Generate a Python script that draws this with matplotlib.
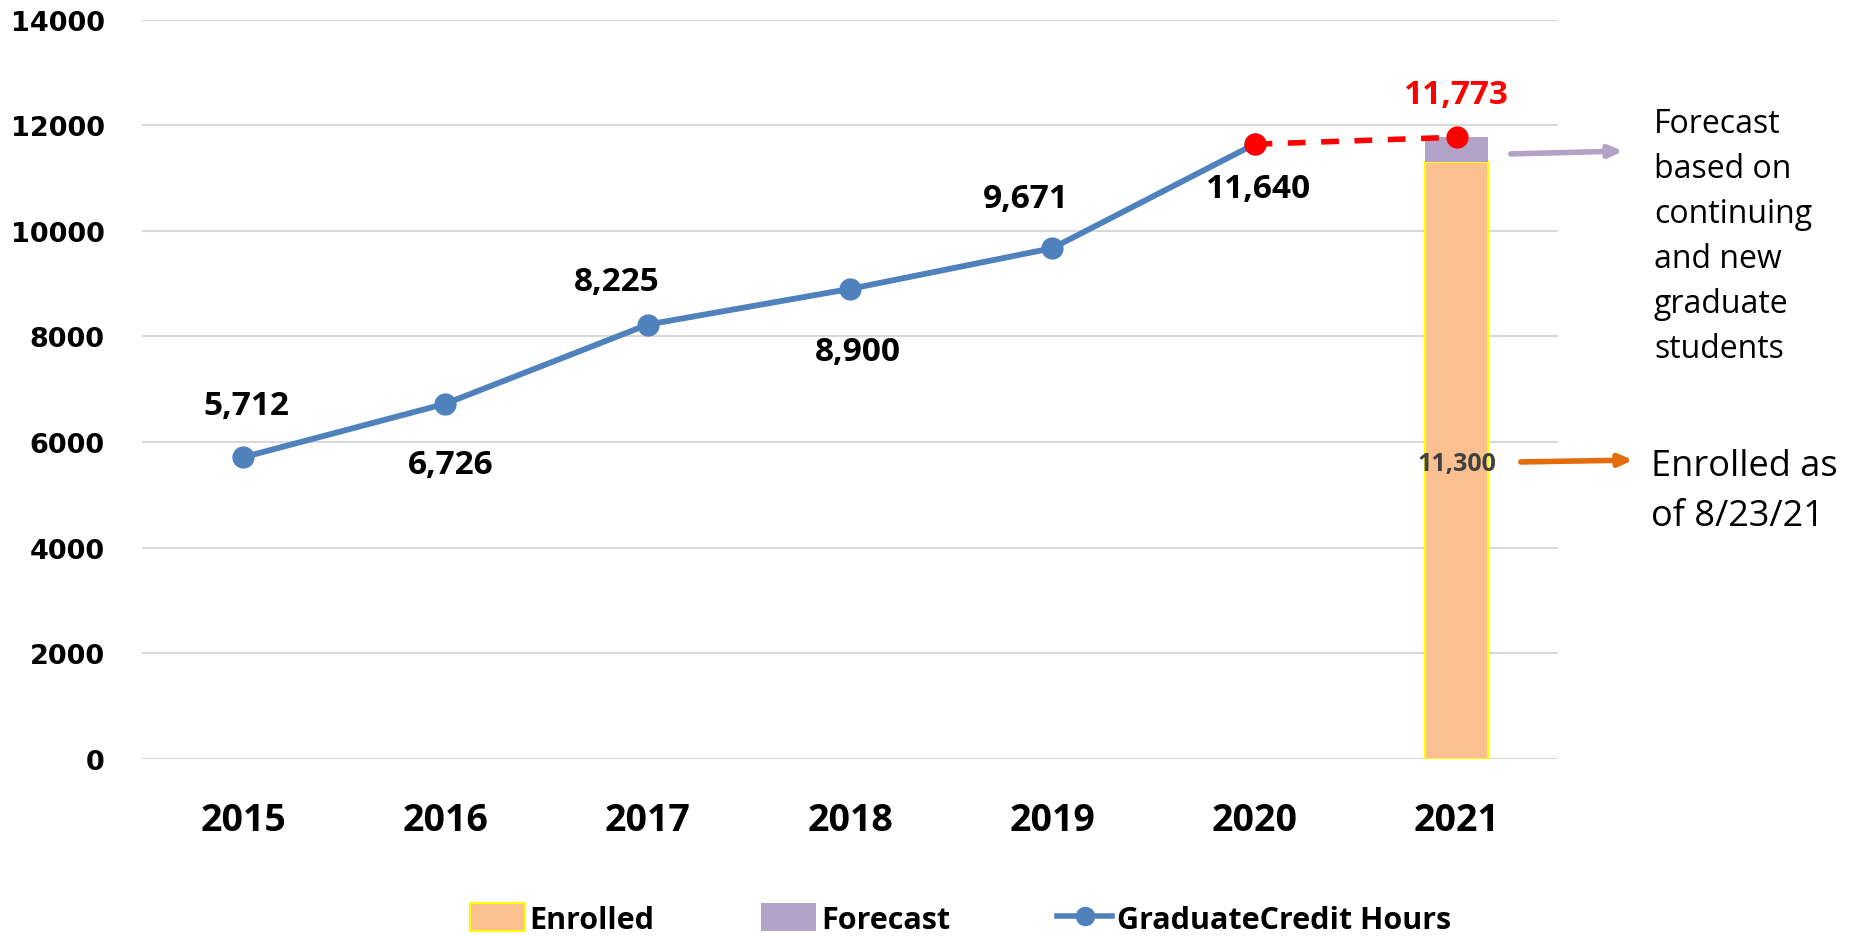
import matplotlib.pyplot as plt
from matplotlib.lines import Line2D
from matplotlib.patches import Patch

# data
years = ['2015', '2016', '2017', '2018', '2019', '2020', '2021']
credit_hours = [5712, 6726, 8225, 8900, 9671, 11640]
forecast_total = 11773
enrolled_2021 = 11300
y_ticks = [0, 2000, 4000, 6000, 8000, 10000, 12000, 14000]

# label offsets in points (x, y) for the line labels
label_offsets = [(2, 37), (4, -44), (-22, 31), (6, -45), (-19, 36), (3, -32)]

BLUE = '#4F81BD'
ORANGE = '#FAC090'
PURPLE = '#B3A2C7'
RED = '#FF0000'
LABEL_FONT = 'Open Sans'
H = 937  # figure height in pixels


def main():
    fig = plt.figure(figsize=(18.54, 9.37), dpi=100)
    ax = fig.add_axes([0.0766, 0.189, 0.7637, 0.789])

    x = list(range(len(years)))
    x_2021 = x[-1]

    # stacked bar for 2021
    ax.bar(x_2021, enrolled_2021, width=0.31, color=ORANGE, edgecolor='#FFFF00',
           linewidth=1.5, zorder=2)
    ax.bar(x_2021, forecast_total - enrolled_2021, bottom=enrolled_2021, width=0.31,
           color=PURPLE, linewidth=0, zorder=2)

    # actual credit hours
    ax.plot(x[:len(credit_hours)], credit_hours, color=BLUE, lw=4.2, marker='o',
            ms=15, zorder=3)
    # forecast segment
    ax.plot([x[len(credit_hours) - 1], x_2021], [credit_hours[-1], forecast_total],
            color=RED, lw=4, ls=(0, (3.2, 2.8)), marker='o', ms=15, zorder=4)

    for xi, v, off in zip(x, credit_hours, label_offsets):
        ax.annotate(f'{v:,}', (xi, v), xytext=off, textcoords='offset points',
                    ha='center', va='center', fontsize=24, fontweight='bold',
                    family=LABEL_FONT)
    ax.annotate(f'{forecast_total:,}', (x_2021, forecast_total), xytext=(0, 31),
                textcoords='offset points', ha='center', va='center', fontsize=24,
                fontweight='bold', color=RED, family=LABEL_FONT)
    ax.text(x_2021, 5600, f'{enrolled_2021:,}', ha='center', va='center',
            fontsize=18, fontweight='bold', color='#404040', family=LABEL_FONT,
            zorder=5)

    ax.set_xlim(-0.5, len(years) - 0.5)
    ax.set_ylim(0, 14000)
    ax.set_xticks(x)
    ax.set_xticklabels(years, fontsize=27, fontweight='bold', family=LABEL_FONT)
    ax.set_yticks(y_ticks)
    ax.set_yticklabels([str(t) for t in y_ticks], fontsize=19.5, fontweight='bold',
                       family='DejaVu Sans')
    ax.tick_params(axis='x', length=0, pad=30)
    ax.tick_params(axis='y', length=0, pad=27)
    ax.grid(axis='y', color='#D9D9D9', lw=1.5, zorder=0)
    ax.set_axisbelow(True)
    for s in ax.spines.values():
        s.set_visible(False)

    # side notes with arrows (figure pixels measured from the bottom)
    ax.annotate('', xy=(1626, H - 152), xycoords='figure pixels',
                xytext=(1508, H - 155), textcoords='figure pixels',
                arrowprops=dict(arrowstyle='-|>,head_length=0.8,head_width=0.35',
                                color=PURPLE, lw=4))
    ax.annotate('', xy=(1636, H - 461), xycoords='figure pixels',
                xytext=(1518, H - 463), textcoords='figure pixels',
                arrowprops=dict(arrowstyle='-|>,head_length=0.8,head_width=0.35',
                                color='#E46C0A', lw=4))
    fig.text(1654 / 1854, 1 - 108 / H,
             'Forecast\nbased on\ncontinuing\nand new\ngraduate\nstudents',
             ha='left', va='top', fontsize=23, family=LABEL_FONT, linespacing=1.48)
    fig.text(1651 / 1854, 1 - 449 / H, 'Enrolled as\nof 8/23/21',
             ha='left', va='top', fontsize=26, family=LABEL_FONT, linespacing=1.52)

    handles = [
        Patch(facecolor=ORANGE, edgecolor='#FFFF00', lw=1.5, label='Enrolled'),
        Patch(facecolor=PURPLE, label='Forecast'),
        Line2D([0], [0], color=BLUE, lw=4, marker='o', ms=13,
               label='GraduateCredit Hours'),
    ]
    fig.legend(handles=handles, loc='center', bbox_to_anchor=(0.518, 1 - 920 / H),
               ncol=3, frameon=False, numpoints=1, handlelength=1.8,
               handleheight=1.0, handletextpad=0.15, columnspacing=3.5,
               prop=dict(family=LABEL_FONT, weight='bold', size=22))

    fig.savefig('out.png', dpi=100)


if __name__ == '__main__':
    main()
